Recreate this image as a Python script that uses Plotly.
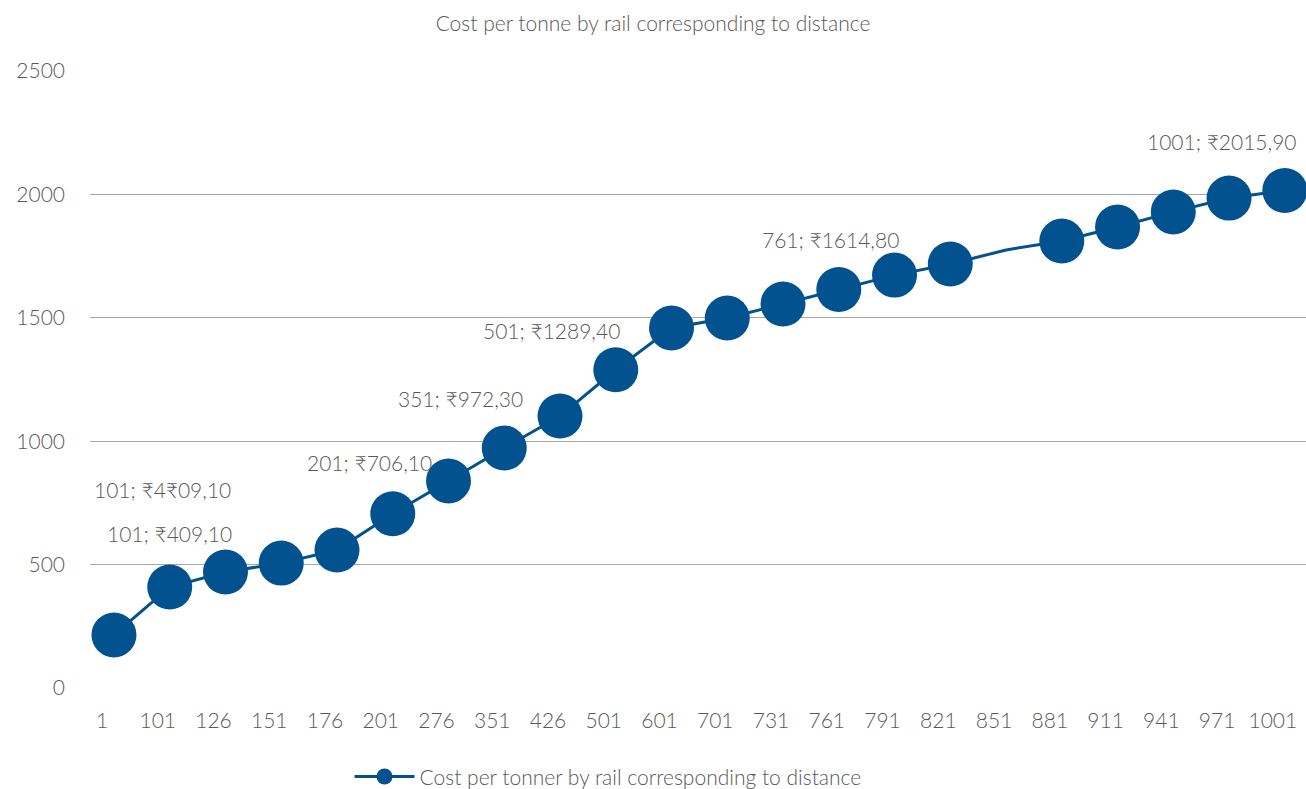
import plotly.graph_objects as go

distances = ["1", "101", "126", "151", "176", "201", "276", "351", "426", "501", "601",
             "701", "731", "761", "791", "821", "851", "881", "911", "941", "971", "1001"]
costs = [215, 409.1, 470, 506, 559, 706.1, 839, 972.3, 1102, 1289.4, 1459,
         1499, 1556, 1614.8, 1673, 1718, 1775, 1811, 1868, 1929, 1985, 2015.9]
marker_shown = [True] * 16 + [False] + [True] * 5

label_cats = ["101", "101", "201", "351", "501", "761", "1001"]
label_texts = ["101; ₹4₹09,10", "101; ₹409,10", "201; ₹706,10", "351; ₹972,30",
               "501; ₹1289,40", "761; ₹1614,80", "1001; ₹2015,90"]
label_shifts = [(-7, 98), (0, 54), (-23, 51), (-44, 50), (-64, 39), (-8, 50), (-63, 49)]

COLOR = "#02528F"
TXT = "#595959"
FONT = "Lato"
W = 300

fig = go.Figure()
fig.add_trace(go.Scatter(
    x=distances, y=costs, mode="lines+markers",
    name="Cost per tonner by rail corresponding to distance",
    line=dict(color=COLOR, width=3),
    marker=dict(color=COLOR, size=[45 if s else 0 for s in marker_shown],
                opacity=1, line=dict(width=0)),
    cliponaxis=False,
))

for cat, txt, (dx, dy) in zip(label_cats, label_texts, label_shifts):
    i = distances.index(cat)
    fig.add_annotation(x=i, y=costs[i], text=txt, showarrow=False,
                       xref="x", yref="y", xshift=dx, yshift=dy,
                       font=dict(family=FONT, size=21, color=TXT, weight=W))

fig.update_layout(
    width=1306, height=789,
    paper_bgcolor="white", plot_bgcolor="white",
    margin=dict(l=90, r=0, t=71, b=101, autoexpand=False),
    title=dict(text="Cost per tonne by rail corresponding to distance",
               x=0.5, xanchor="center", y=0.97, yanchor="middle",
               font=dict(family=FONT, size=21, color=TXT, weight=W)),
    font=dict(family=FONT, color=TXT),
    showlegend=True,
    legend=dict(orientation="h", x=0.426, xanchor="center", y=-0.144, yanchor="middle",
                font=dict(family=FONT, size=21, color=TXT, weight=W), itemsizing="trace",
                itemwidth=60),
    xaxis=dict(type="category", range=[-0.43, 21.38], showgrid=False, zeroline=False,
               showline=False, ticks="",
               tickfont=dict(family=FONT, size=21, color=TXT, weight=W),
               ticklabelstandoff=18, ticklabelshift=-12),
    yaxis=dict(range=[0, 2500], tickvals=[0, 500, 1000, 1500, 2000, 2500],
               showgrid=True, gridcolor="#A6A6A6", gridwidth=1, zeroline=False,
               showline=False, ticks="",
               tickfont=dict(family=FONT, size=21, color=TXT, weight=W),
               ticklabelstandoff=24),
)

fig.write_html("out.html")
